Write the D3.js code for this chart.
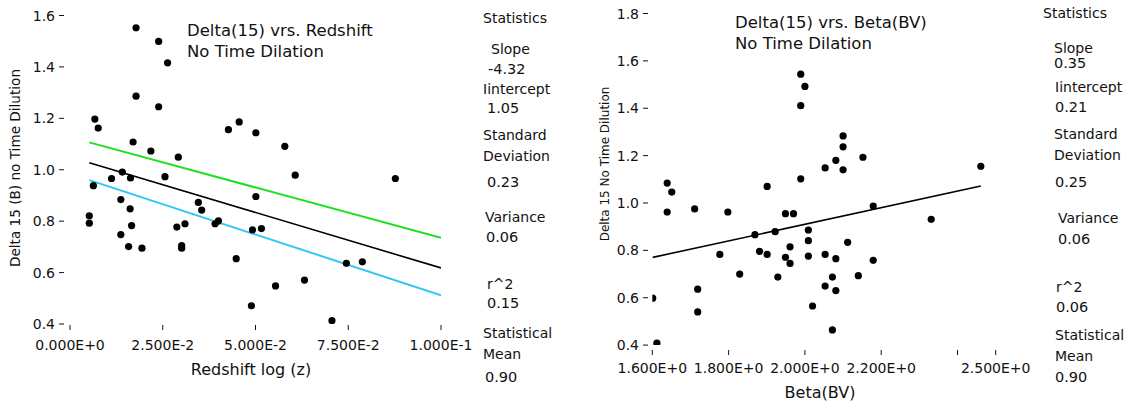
<!DOCTYPE html>
<html>
<head>
<meta charset="utf-8">
<script src="https://cdn.jsdelivr.net/npm/d3@7/dist/d3.min.js"></script>
<style>
  body { margin: 0; background: #fff; }
  svg text { font-family: 'DejaVu Sans', sans-serif; fill: #111; }
</style>
</head>
<body>
<div id="chart"></div>
<script>
// ---- data: delta(15) vs redshift ----
let redshiftZ = [0.0178, 0.0239, 0.0263, 0.0178, 0.0239, 0.0067, 0.0076, 0.0170, 0.0218, 0.0292,
  0.0427, 0.0456, 0.0501, 0.0579, 0.0607, 0.0877, 0.0141, 0.0112, 0.0163, 0.0256,
  0.0063, 0.0137, 0.0162, 0.0052, 0.0052, 0.0166, 0.0137, 0.0158, 0.0194, 0.0288,
  0.0310, 0.0301, 0.0301, 0.0346, 0.0355, 0.0391, 0.0400, 0.0501, 0.0492, 0.0516,
  0.0448, 0.0489, 0.0554, 0.0632, 0.0706, 0.0745, 0.0788]
let redshiftDelta = [1.552, 1.499, 1.416, 1.286, 1.245, 1.197, 1.162, 1.108, 1.073, 1.049,
  1.156, 1.186, 1.144, 1.091, 0.979, 0.966, 0.991, 0.966, 0.968, 0.973,
  0.938, 0.884, 0.848, 0.821, 0.792, 0.783, 0.748, 0.701, 0.695, 0.777,
  0.790, 0.705, 0.695, 0.873, 0.843, 0.790, 0.801, 0.896, 0.766, 0.771,
  0.654, 0.471, 0.548, 0.571, 0.413, 0.636, 0.642]
// upper, fit, lower lines
let redshiftLineIntercepts = [1.127, 1.05, 0.984]
let redshiftLineSlopes = [-3.92, -4.32, -4.72]
let redshiftXTicks = [0, 0.025, 0.05, 0.075, 0.1]
let redshiftXTickLabels = ['0.000E+0', '2.500E-2', '5.000E-2', '7.500E-2', '1.000E-1']
let redshiftYTicks = [0.4, 0.6, 0.8, 1.0, 1.2, 1.4, 1.6]
let redshiftStats = ['-4.32', '1.05', '0.23', '0.06', '0.15', '0.90']

// ---- data: delta(15) vs beta(BV) ----
let betaBV = [1.989, 2.100, 2.100, 2.081, 2.053, 2.100, 2.152, 1.989, 2.461, 1.639,
  1.651, 1.639, 1.711, 1.798, 1.901, 1.949, 1.970, 2.179, 2.331, 1.869,
  1.922, 2.009, 2.009, 1.961, 2.112, 1.777, 1.881, 1.901, 1.949, 1.961,
  2.009, 2.053, 2.081, 2.179, 1.829, 1.929, 2.072, 2.140, 2.053, 2.081,
  1.719, 1.719, 2.020, 2.072, 1.601, 1.612, 1.989, 2.000]
let betaDelta = [1.411, 1.283, 1.237, 1.180, 1.148, 1.140, 1.193, 1.102, 1.155, 1.084,
  1.046, 0.962, 0.975, 0.962, 1.070, 0.955, 0.955, 0.987, 0.931, 0.866,
  0.879, 0.886, 0.841, 0.815, 0.834, 0.783, 0.796, 0.783, 0.771, 0.745,
  0.776, 0.783, 0.765, 0.758, 0.700, 0.687, 0.687, 0.693, 0.649, 0.630,
  0.636, 0.540, 0.565, 0.464, 0.598, 0.408, 1.544, 1.492]
let betaLineIntercepts = [0.21]
let betaLineSlopes = [0.35]
let betaXTicks = [1.6, 1.8, 2.0, 2.2, 2.4, 2.5]
let betaXTickLabels = ['1.600E+0', '1.800E+0', '2.000E+0', '2.200E+0', '', '2.500E+0']
let betaYTicks = [0.4, 0.6, 0.8, 1.0, 1.2, 1.4, 1.6, 1.8]
let betaStats = ['0.35', '0.21', '0.25', '0.06', '0.06', '0.90']

let statLabels = [['Slope'], ['Iintercept'], ['Standard', 'Deviation'], ['Variance'], ['r^2'], ['Statistical', 'Mean']]

let svg = d3
  .select('#chart')
  .append('svg')
  .attr('width', 1129)
  .attr('height', 402)

function drawPanel(opts) {
  let g = svg.append('g')

  let x = d3.scaleLinear().domain(opts.xDomain).range(opts.xRange)
  let y = d3.scaleLinear().domain(opts.yDomain).range(opts.yRange)

  let clipId = 'clip-' + opts.id
  svg.append('clipPath')
    .attr('id', clipId)
    .append('rect')
    .attr('x', opts.xRange[0])
    .attr('y', 0)
    .attr('width', opts.xRange[1] - opts.xRange[0])
    .attr('height', opts.yRange[0])

  // y ticks: "1.0 -"
  let yt = g.selectAll('.ytick')
    .data(opts.yTicks)
    .enter()
    .append('g')
    .attr('class', 'ytick')
    .attr('transform', d => `translate(0,${y(d)})`)
  yt.append('text')
    .text(d => d3.format('.1f')(d))
    .attr('x', opts.yLabelX)
    .attr('text-anchor', 'end')
    .attr('dominant-baseline', 'central')
    .attr('font-size', 14)
  yt.append('line')
    .attr('x1', opts.yLabelX + 4)
    .attr('x2', opts.yLabelX + 9)
    .attr('stroke', '#111')

  // x ticks
  let xt = g.selectAll('.xtick')
    .data(opts.xTicks)
    .enter()
    .append('g')
    .attr('class', 'xtick')
    .attr('transform', d => `translate(${x(d)},0)`)
  xt.append('line')
    .attr('y1', opts.xTickY)
    .attr('y2', opts.xTickY + 5)
    .attr('stroke', '#111')
  xt.append('text')
    .text((d, i) => opts.xTickLabels[i])
    .attr('y', opts.xLabelY)
    .attr('text-anchor', 'middle')
    .attr('dominant-baseline', 'central')
    .attr('font-size', 14)

  // fit lines
  let x0 = d3.min(opts.xs)
  let x1 = opts.lineEnd != null ? opts.lineEnd : d3.max(opts.xs)
  g.append('g')
    .attr('clip-path', `url(#${clipId})`)
    .selectAll('.fit')
    .data(opts.intercepts)
    .enter()
    .append('line')
    .attr('class', 'fit')
    .attr('x1', x(x0))
    .attr('x2', x(x1))
    .attr('y1', (d, i) => y(d + opts.slopes[i] * x0))
    .attr('y2', (d, i) => y(d + opts.slopes[i] * x1))
    .attr('stroke', (d, i) => opts.lineColors[i])
    .attr('stroke-width', (d, i) => opts.lineWidths[i])

  // points
  g.append('g')
    .attr('clip-path', `url(#${clipId})`)
    .selectAll('.pt')
    .data(opts.xs)
    .enter()
    .append('circle')
    .attr('class', 'pt')
    .attr('cx', d => x(d))
    .attr('cy', (d, i) => y(opts.ys[i]))
    .attr('r', 3.6)
    .attr('fill', '#000')

  // title
  g.append('text')
    .attr('x', opts.titleX)
    .attr('y', opts.titleY)
    .attr('font-size', 16.5)
    .selectAll('tspan')
    .data(opts.title)
    .enter()
    .append('tspan')
    .attr('x', opts.titleX)
    .attr('dy', (d, i) => (i === 0 ? 0 : 21))
    .text(d => d)

  // axis titles
  g.append('text')
    .text(opts.xTitle)
    .attr('x', opts.xTitlePos[0])
    .attr('y', opts.xTitlePos[1])
    .attr('text-anchor', 'middle')
    .attr('dominant-baseline', 'central')
    .attr('font-size', 16)
  g.append('text')
    .text(opts.yTitle)
    .attr('transform', `translate(${opts.yTitlePos[0]},${opts.yTitlePos[1]}) rotate(-90)`)
    .attr('text-anchor', 'middle')
    .attr('dominant-baseline', 'central')
    .attr('font-size', opts.yTitleSize)

  // statistics column
  let s = opts.statsLayout
  g.append('text')
    .text('Statistics')
    .attr('x', s.headX)
    .attr('y', s.headY)
    .attr('dominant-baseline', 'central')
    .attr('font-size', 14)
  statLabels.forEach((lines, i) => {
    lines.forEach((t, j) => {
      g.append('text')
        .text(t)
        .attr('x', s.labelX[i])
        .attr('y', s.labelY[i] + j * 21)
        .attr('dominant-baseline', 'central')
        .attr('font-size', 14)
    })
    g.append('text')
      .text(opts.stats[i])
      .attr('x', s.valueX[i])
      .attr('y', s.valueY[i])
      .attr('dominant-baseline', 'central')
      .attr('font-size', 14.5)
  })
}

drawPanel({
  id: 'redshift',
  xs: redshiftZ,
  ys: redshiftDelta,
  xDomain: [0, 0.1],
  xRange: [70, 441],
  yDomain: [0.4, 1.6],
  yRange: [324, 15.5],
  yTicks: redshiftYTicks,
  yLabelX: 55,
  xTicks: redshiftXTicks,
  xTickLabels: redshiftXTickLabels,
  xTickY: 325,
  xLabelY: 345,
  intercepts: redshiftLineIntercepts,
  slopes: redshiftLineSlopes,
  lineEnd: 0.1,
  lineColors: ['#1fe01f', '#000', '#33c6f6'],
  lineWidths: [2, 1.6, 2],
  title: ['Delta(15) vrs. Redshift', 'No Time Dilation'],
  titleX: 187,
  titleY: 36,
  xTitle: 'Redshift log (z)',
  xTitlePos: [251, 369],
  yTitle: 'Delta 15 (B) no Time Dilution',
  yTitlePos: [15, 168],
  yTitleSize: 13.6,
  stats: redshiftStats,
  statsLayout: {
    headX: 483, headY: 18,
    labelX: [491, 483, 483, 485, 487, 483],
    labelY: [49, 89, 135, 217, 284, 333],
    valueX: [488, 487, 487, 486, 487, 485],
    valueY: [69, 108, 182, 237, 303, 377]
  }
})

drawPanel({
  id: 'beta',
  xs: betaBV,
  ys: betaDelta,
  xDomain: [1.6, 2.5],
  xRange: [652.3, 995.7],
  yDomain: [0.4, 1.8],
  yRange: [345.1, 13.5],
  yTicks: betaYTicks,
  yLabelX: 639,
  xTicks: betaXTicks,
  xTickLabels: betaXTickLabels,
  xTickY: 350,
  xLabelY: 368,
  intercepts: betaLineIntercepts,
  slopes: betaLineSlopes,
  lineEnd: null,
  lineColors: ['#000'],
  lineWidths: [1.6],
  title: ['Delta(15) vrs. Beta(BV)', 'No Time Dilation'],
  titleX: 735,
  titleY: 28,
  xTitle: 'Beta(BV)',
  xTitlePos: [820, 392],
  yTitle: 'Delta 15 No Time Dilution',
  yTitlePos: [605, 164],
  yTitleSize: 12,
  stats: betaStats,
  statsLayout: {
    headX: 1043, headY: 13,
    labelX: [1054, 1055, 1054, 1058, 1056, 1055],
    labelY: [48, 87, 134, 218, 287, 335],
    valueX: [1054, 1055, 1055, 1058, 1056, 1055],
    valueY: [63, 107, 182, 239, 307, 377]
  }
})
</script>
</body>
</html>
